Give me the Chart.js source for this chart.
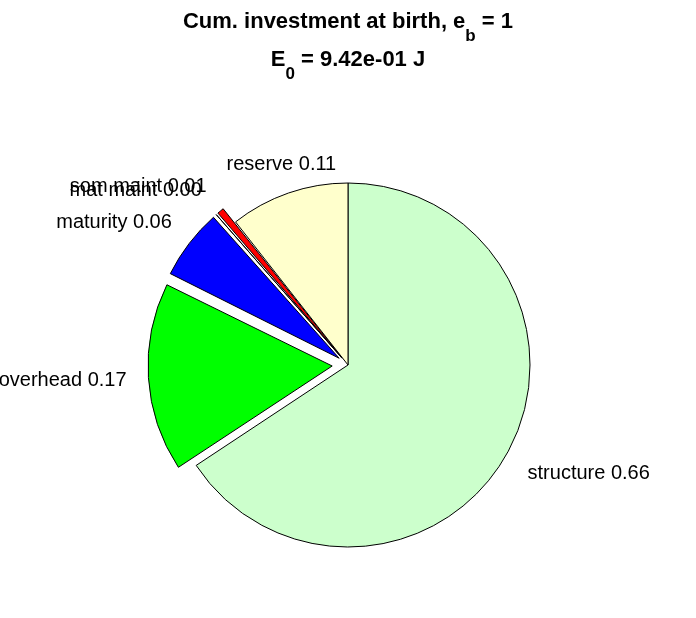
<!DOCTYPE html>
<html><head><meta charset="utf-8">
<script src="https://cdn.jsdelivr.net/npm/chart.js@4.4.0/dist/chart.umd.min.js"></script>
<style>html,body{margin:0;padding:0;background:#fff;} canvas{display:block;}</style>
</head><body>
<canvas id="c" width="696" height="618"></canvas>
<script>
// ---- data ----
const categories = ['structure', 'overhead', 'maturity', 'mat maint', 'som maint', 'reserve'];
const fractions = [0.657, 0.166, 0.062, 0.001, 0.008, 0.106];
const exploded = [false, true, true, true, true, false];
const sliceColors = ['#ccffcc', '#00ff00', '#0000ff', '#ff00ff', '#ff0000', '#ffffcc'];
const titleLine1 = ['Cum. investment at birth, e', 'b', ' = 1'];
const titleLine2 = ['E', '0', ' = 9.42e-01 J'];

// ---- style ----
const EXPLODE_PX = 18;
const RADIUS = 182;
const FONT = '"Liberation Sans", Arial, Helvetica, sans-serif';
const total = fractions.reduce((a, b) => a + b, 0);
function offsetFor(i) {
  if (!exploded[i]) return 0;
  const circ = fractions[i] / total * 2 * Math.PI;
  return EXPLODE_PX * 4 / (2 - Math.sin(Math.min(Math.PI, circ)));
}

const labelPlugin = {
  id: 'sliceLabels',
  afterDatasetsDraw(chart) {
    const ctx = chart.ctx;
    const meta = chart.getDatasetMeta(0);
    ctx.save();
    ctx.font = '20px ' + FONT;
    ctx.fillStyle = '#000';
    meta.data.forEach((arc, i) => {
      const p = arc.getProps(['x', 'y', 'startAngle', 'endAngle', 'outerRadius'], true);
      const mid = (p.startAngle + p.endAngle) / 2;
      const circ = p.endAngle - p.startAngle;
      const off = (arc.options.offset || 0) / 4 * (2 - Math.sin(Math.min(Math.PI, circ)));
      const dx = Math.cos(mid), dy = Math.sin(mid);
      const d = off + 1.12 * p.outerRadius;
      const ax = p.x + dx * d, ay = p.y + dy * d + 2;
      ctx.textAlign = Math.abs(dx) < 0.4 ? 'center' : (dx > 0 ? 'left' : 'right');
      ctx.textBaseline = Math.abs(dy) < 0.3 ? 'middle' : (dy > 0 ? 'top' : 'bottom');
      ctx.fillText(categories[i] + ' ' + fractions[i].toFixed(2), ax, ay);
    });
    ctx.restore();
  }
};

const titlePlugin = {
  id: 'subTitle',
  afterDraw(chart) {
    const ctx = chart.ctx;
    const mainF = 'bold 22px ' + FONT, subF = 'bold 17px ' + FONT;
    function line(parts, baseline) {
      const fonts = [mainF, subF, mainF];
      const dys = [0, 13, 0];
      let w = 0;
      const ws = parts.map((t, k) => { ctx.font = fonts[k]; const m = ctx.measureText(t).width; w += m; return m; });
      let x = chart.width / 2 - w / 2;
      ctx.fillStyle = '#000';
      ctx.textAlign = 'left';
      ctx.textBaseline = 'alphabetic';
      parts.forEach((t, k) => { ctx.font = fonts[k]; ctx.fillText(t, x, baseline + dys[k]); x += ws[k]; });
    }
    ctx.save();
    line(titleLine1, 28);
    line(titleLine2, 66);
    ctx.restore();
  }
};

new Chart(document.getElementById('c'), {
  type: 'pie',
  data: {
    labels: categories,
    datasets: [{
      data: fractions,
      backgroundColor: sliceColors,
      borderColor: '#000',
      borderWidth: 1,
      offset: (c) => offsetFor(c.dataIndex),
      hoverOffset: 0
    }]
  },
  options: {
    responsive: false,
    animation: false,
    radius: RADIUS,
    layout: { padding: { top: 117, bottom: 5, left: 0, right: 0 } },
    plugins: { legend: { display: false }, title: { display: false }, tooltip: { enabled: false } },
    events: []
  },
  plugins: [labelPlugin, titlePlugin]
});
</script>
</body></html>
